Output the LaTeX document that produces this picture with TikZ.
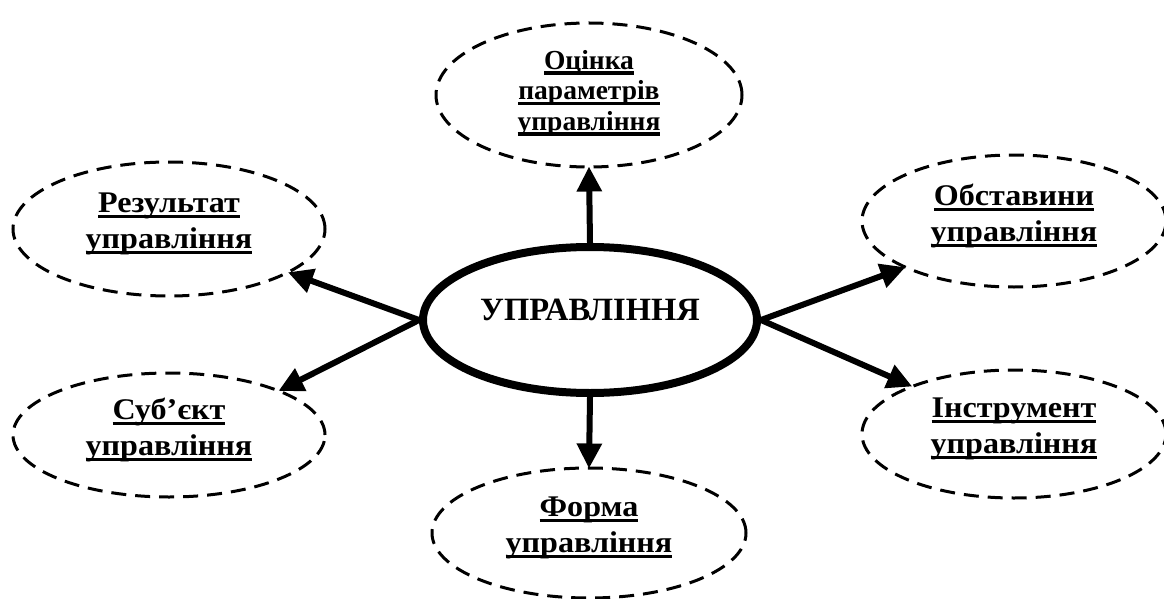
\documentclass[tikz,border=0pt]{standalone}
\usepackage{fontspec}
\setmainfont{Liberation Serif}
\newfontfamily\leaffont[FakeStretch=1.07]{Liberation Serif}
\usetikzlibrary{shapes.geometric,arrows.meta}

% underlined word with a heavy rule just below the baseline
\newcommand\ulword[1]{\setbox0=\hbox{#1}\rlap{\rule[-5.5pt]{\wd0}{3.2pt}}\box0}

\tikzset{
  hub/.style={ellipse, draw, line width=8pt, inner sep=0pt,
    minimum width=334pt, minimum height=146pt,
    text height=12pt, text depth=12pt,
    font=\fontsize{32.5}{36}\selectfont\bfseries},
  leaf/.style={ellipse, draw, line width=3pt, dash pattern=on 15pt off 9pt,
    inner sep=0pt},
  leaftext/.style={inner sep=0pt, align=center, yshift=5pt,
    font=\leaffont\fontsize{30}{35.5}\selectfont\bfseries},
  leaftextthree/.style={inner sep=0pt, align=center, yshift=2pt,
    font=\fontsize{27.5}{30.5}\selectfont\bfseries},
  link/.style={line width=6pt, -{Triangle[length=25pt,width=24pt]}, shorten >=-2pt}
}

\begin{document}
\begin{tikzpicture}[x=1pt, y=-1pt]
  \useasboundingbox (0,0) rectangle (1164,599);
  \clip (0,0) rectangle (1164,599);

  % central concept
  \node[hub] (c) at (590,320) {УПРАВЛІННЯ};

  % surrounding aspects
  \node[leaf, minimum width=306pt, minimum height=144pt,
    label={[leaftextthree]center:{\ulword{Оцінка}\\\ulword{параметрів}\\\ulword{управління}}}]
    (est) at (589,95) {};
  \node[leaf, minimum width=304pt, minimum height=132pt,
    label={[leaftext]center:{\ulword{Обставини}\\\ulword{управління}}}]
    (obst) at (1014,221) {};
  \node[leaf, minimum width=304pt, minimum height=128pt,
    label={[leaftext]center:{\ulword{Інструмент}\\\ulword{управління}}}]
    (instr) at (1014,434) {};
  \node[leaf, minimum width=312pt, minimum height=134pt,
    label={[leaftext]center:{\ulword{Результат}\\\ulword{управління}}}]
    (res) at (169,229) {};
  \node[leaf, minimum width=312pt, minimum height=124pt,
    label={[leaftext]center:{\ulword{Суб’єкт}\\\ulword{управління}}}]
    (subj) at (169,435) {};
  \node[leaf, minimum width=314pt, minimum height=130pt,
    label={[leaftext]center:{\ulword{Форма}\\\ulword{управління}}}]
    (form) at (589,533) {};

  % connectors
  \draw[link] (c.north) -- (est.south);
  \draw[link] (c.south) -- (form.north);
  \draw[link] (c.west) -- (res.-20);
  \draw[link] (c.west) -- (subj.22);
  \draw[link] (c.east) -- (obst.203);
  \draw[link] (c.east) -- (instr.155);
\end{tikzpicture}
\end{document}
